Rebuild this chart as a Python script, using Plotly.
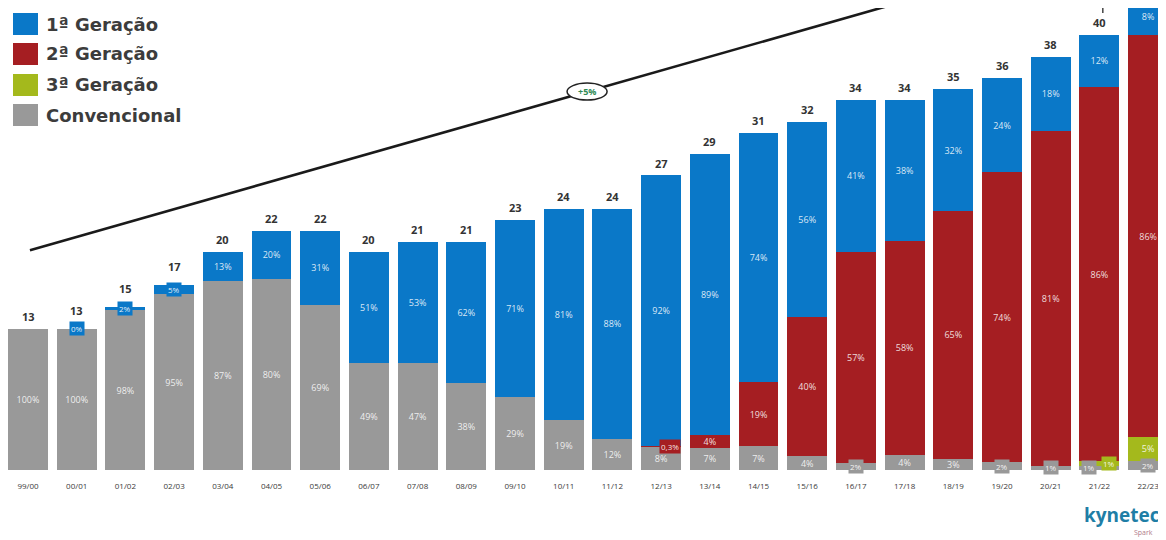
import plotly.graph_objects as go

# ---------------- data ----------------
seasons = ["99/00", "00/01", "01/02", "02/03", "03/04", "04/05", "05/06", "06/07",
           "07/08", "08/09", "09/10", "10/11", "11/12", "12/13", "13/14", "14/15",
           "15/16", "16/17", "17/18", "18/19", "19/20", "20/21", "21/22", "22/23"]
totals = [13, 13, 15, 17, 20, 22, 22, 20, 21, 21, 23, 24, 24, 27, 29, 31,
          32, 34, 34, 35, 36, 38, 40, 43]
pct_conv = [100, 100, 98, 95, 87, 80, 69, 49, 47, 38, 29, 19, 12, 8, 7, 7,
            4, 2, 4, 3, 2, 1, 1, 2]
pct_3a = [0] * 22 + [1, 5]
pct_2a = [0] * 13 + [0.3, 4, 19, 40, 57, 58, 65, 74, 81, 86, 86]
pct_1a = [0, 0, 2, 5, 13, 20, 31, 51, 53, 62, 71, 81, 88, 92, 89, 74,
          56, 41, 38, 32, 24, 18, 12, 8]
zero_labels_1a = ["00/01"]          # seasons where a "0%" label is shown
trend_x = [0.04, 19.5]              # trend arrow, in category units
trend_y = [20.2, 45.0]
trend_label = "+5%"

series = [
    ("Convencional", pct_conv, "#999999"),
    ("3ª Geração", pct_3a, "#a4b91c"),
    ("2ª Geração", pct_2a, "#a51e22"),
    ("1ª Geração", pct_1a, "#0a78c8"),
]

# ---------------- layout constants ----------------
OFF = 8                      # page offset of the figure (body margin)
W, H = 1166, 540
BASE_PAGE = 470              # page y of the bar baseline
UNIT = 10.88                 # pixels per unit
STEP = 48.7                  # pixels per category
X0_PAGE = 28                 # page x of first category centre
ML, MR, MT = 0, 0, 0
MB = H - (BASE_PAGE - OFF)
PW, PH = W - ML - MR, H - MT - MB
YMAX = PH / UNIT
XR = [-(X0_PAGE - OFF) / STEP, -(X0_PAGE - OFF) / STEP + PW / STEP]
px_per_unit = UNIT


def fmt(p):
    return (f"{p:g}%").replace(".", ",")


def page2paper(x, y):
    fx, fy = x - OFF, y - OFF
    return (fx - ML) / PW, 1 - (fy - MT) / PH


fig = go.Figure()
idx = list(range(len(seasons)))
base = [0.0] * len(seasons)
badges = {}
top_badge = set()

for name, pcts, col in series:
    vals = [t * p / 100 for t, p in zip(totals, pcts)]
    texts = []
    for i, (v, p) in enumerate(zip(vals, pcts)):
        show = p > 0 or (name == "1ª Geração" and seasons[i] in zero_labels_1a)
        if not show:
            texts.append("")
        elif v * px_per_unit < 10.5:
            texts.append("")
            badges.setdefault(i, []).append((base[i] + v / 2, fmt(p), col, name))
            if name == "1ª Geração":
                top_badge.add(i)
        else:
            texts.append(fmt(p))
    fig.add_trace(go.Bar(
        x=idx, y=vals, name=name, marker=dict(color=col, line=dict(width=0)),
        text=texts, textposition="inside", insidetextanchor="middle",
        textangle=0, constraintext="none",
        textfont=dict(family="Open Sans", size=9, color="rgba(255,255,255,0.85)"),
        showlegend=False, hoverinfo="skip",
    ))
    base = [b + v for b, v in zip(base, vals)]

# trend line
fig.add_trace(go.Scatter(
    x=trend_x, y=trend_y, mode="lines", line=dict(color="#1a1a1a", width=2.6),
    showlegend=False, hoverinfo="skip",
))

annotations = []
shapes = []

# totals above bars
for i, t in enumerate(totals):
    if t > YMAX:
        continue
    annotations.append(dict(
        x=i, y=t, xref="x", yref="y", text=f"<b>{t}</b>", showarrow=False,
        yanchor="bottom", yshift=9 if i in top_badge else 3,
        font=dict(family="Open Sans", size=11, color="#333333"),
    ))

# small labels that don't fit inside their segment
for i, items in badges.items():
    for k, (yc, txt, col, name) in enumerate(items):
        if len(items) == 2:
            xs = -10 if k == 0 else 10
        elif name == "2ª Geração":
            xs = 9
        else:
            xs = 0
        annotations.append(dict(
            x=i, y=yc, xref="x", yref="y", text=txt, showarrow=False,
            xshift=xs, bgcolor=col, borderpad=1,
            font=dict(family="Open Sans", size=8, color="rgba(255,255,255,0.9)"),
        ))

# "+5%" ellipse on the trend line
tx = 11.48
ty = trend_y[0] + (trend_y[1] - trend_y[0]) * (tx - trend_x[0]) / (trend_x[1] - trend_x[0])
hw = 20 / STEP
hh = 8.5 / px_per_unit
shapes.append(dict(type="circle", xref="x", yref="y", x0=tx - hw, x1=tx + hw,
                   y0=ty - hh, y1=ty + hh, fillcolor="white",
                   line=dict(color="#222222", width=1.5)))
annotations.append(dict(x=tx, y=ty, xref="x", yref="y", text=f"<b>{trend_label}</b>",
                        showarrow=False,
                        font=dict(family="Open Sans", size=9, color="#2f8a55")))

# tiny vertical tick at top right
shapes.append(dict(type="line", xref="x", yref="y", x0=22.07, x1=22.07,
                   y0=YMAX - 5 / px_per_unit, y1=YMAX + 2,
                   line=dict(color="#444444", width=1.5)))

# manual legend
legend_rows = [("1ª Geração", "#0a78c8", 24), ("2ª Geração", "#a51e22", 54),
               ("3ª Geração", "#a4b91c", 85), ("Convencional", "#999999", 115)]
for label, col, yc in legend_rows:
    x0, y0 = page2paper(13, yc - 11)
    x1, y1 = page2paper(38, yc + 11)
    shapes.append(dict(type="rect", xref="paper", yref="paper", x0=x0, x1=x1,
                       y0=y1, y1=y0, fillcolor=col, line=dict(width=0)))
    tx_, ty_ = page2paper(44, yc)
    annotations.append(dict(x=tx_, y=ty_, xref="paper", yref="paper", text=f"<b>{label}</b>",
                            showarrow=False, xanchor="left", yanchor="middle",
                            font=dict(family="DejaVu Sans", size=18, color="#3c3c3c")))

# logo text
lx, ly = page2paper(1082, 515)
annotations.append(dict(x=lx, y=ly, xref="paper", yref="paper", text="<b>kynetec</b>",
                        showarrow=False, xanchor="left", yanchor="middle",
                        font=dict(family="Open Sans", size=19, color="#1f7ea6")))
sx, sy = page2paper(1132, 532)
annotations.append(dict(x=sx, y=sy, xref="paper", yref="paper", text="Spark",
                        showarrow=False, xanchor="left", yanchor="middle",
                        font=dict(family="Open Sans", size=7, color="#b07a8a")))

fig.update_layout(
    width=W, height=H, barmode="stack", bargap=0.18,
    margin=dict(l=ML, r=MR, t=MT, b=MB),
    paper_bgcolor="white", plot_bgcolor="white",
    font=dict(family="Open Sans"),
    xaxis=dict(range=XR, tickmode="array", tickvals=idx, ticktext=seasons,
               tickfont=dict(family="Open Sans", size=8, color="#3a3a3a"),
               showgrid=False, zeroline=False, showline=False, ticks="",
               ticklabelstandoff=10, fixedrange=True),
    yaxis=dict(range=[0, YMAX], visible=False, fixedrange=True),
    shapes=shapes, annotations=annotations,
)

fig.write_html("out.html")
